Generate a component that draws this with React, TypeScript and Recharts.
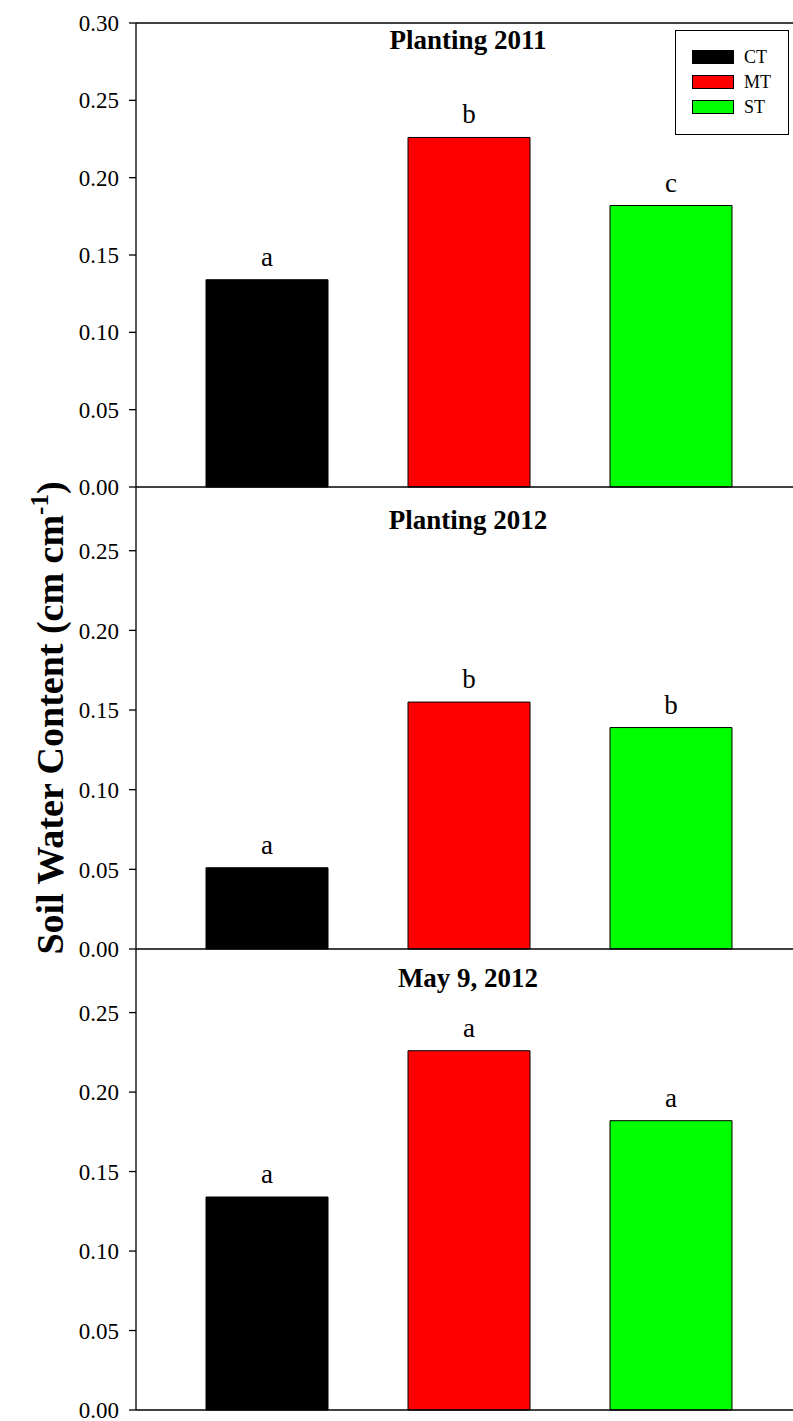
import React from "react";
import {
  BarChart,
  Bar,
  Cell,
  XAxis,
  YAxis,
  ReferenceLine,
  Legend,
  LabelList,
} from "recharts";

// ------------------------------------------------------------
// Data
// ------------------------------------------------------------
const treatments = ["CT", "MT", "ST"];
const treatmentColors = ["#000000", "#ff0000", "#00ff00"];

const planting2011 = [0.134, 0.226, 0.182];
const planting2011Letters = ["a", "b", "c"];

const planting2012 = [0.051, 0.155, 0.139];
const planting2012Letters = ["a", "b", "b"];

const may2012 = [0.134, 0.226, 0.182];
const may2012Letters = ["a", "a", "a"];

const ticksTop = [0, 0.05, 0.1, 0.15, 0.2, 0.25, 0.3];
const ticksLower = [0, 0.05, 0.1, 0.15, 0.2, 0.25];

const FONT = "'Liberation Serif', 'Times New Roman', serif";
const PAD = 15;

function LegendBox() {
  return (
    <div
      style={{
        width: 114,
        height: 105,
        boxSizing: "border-box",
        border: "1.3px solid #000",
        background: "#fff",
        position: "relative",
        fontFamily: FONT,
      }}
    >
      {treatments.map((t, i) => (
        <div
          key={t}
          style={{
            position: "absolute",
            left: 16,
            top: 19 + i * 25,
            display: "flex",
            alignItems: "center",
            height: 14,
          }}
        >
          <span
            style={{
              width: 42,
              height: 14,
              boxSizing: "border-box",
              border: "1px solid #000",
              background: treatmentColors[i],
              display: "inline-block",
            }}
          />
          <span style={{ marginLeft: 10, fontSize: 18, color: "#000", lineHeight: "14px" }}>
            {t}
          </span>
        </div>
      ))}
    </div>
  );
}

function Panel({
  title,
  values,
  letters,
  yMax,
  ticks,
  plotTop,
  plotBottom,
  titleY,
  first,
  yLabel,
}: any) {
  const data = treatments.map((t, i) => ({
    name: t,
    value: values[i],
    letter: letters[i],
  }));
  const top = plotTop - PAD;
  const height = plotBottom - plotTop + 2 * PAD;
  return (
    <div style={{ position: "absolute", left: 0, top }}>
      <BarChart
        width={810}
        height={height}
        data={data}
        margin={{ top: PAD, right: 8, bottom: PAD, left: 0 }}
      >
        <XAxis dataKey="name" hide padding={{ left: 30, right: 30 }} />
        <YAxis
          type="number"
          domain={[0, yMax]}
          ticks={ticks}
          interval={0}
          width={136}
          tickSize={7}
          tickMargin={10}
          axisLine={{ stroke: "#000", strokeWidth: 1.3 }}
          tickLine={{ stroke: "#000", strokeWidth: 1.3 }}
          tick={{ fill: "#000", fontSize: 23, fontFamily: FONT }}
          tickFormatter={(v: number) => v.toFixed(2)}
        />
        <Bar
          dataKey="value"
          barSize={122}
          stroke="#000"
          strokeWidth={1}
          isAnimationActive={false}
        >
          {data.map((_, i) => (
            <Cell key={i} fill={treatmentColors[i]} />
          ))}
          <LabelList
            dataKey="letter"
            position="top"
            offset={14}
            fill="#000"
            fontSize={27}
            fontFamily={FONT}
          />
        </Bar>
        <ReferenceLine y={0} stroke="#000" strokeWidth={1.5} />
        {first && <ReferenceLine y={yMax} stroke="#000" strokeWidth={1.3} />}
        {first && (
          <Legend
            layout="horizontal"
            verticalAlign="middle"
            align="center"
            wrapperStyle={{ left: 675, top: 30 - top, width: 114, height: 105 }}
            content={() => <LegendBox />}
          />
        )}
        <text
          x={468}
          y={titleY - top}
          textAnchor="middle"
          dominantBaseline="central"
          style={{ fontFamily: FONT, fontSize: 27, fontWeight: "bold", fill: "#000" }}
        >
          {title}
        </text>
        {yLabel && (
          <text
            x={63}
            y={718 - top}
            textAnchor="middle"
            transform={`rotate(-90, 63, ${718 - top})`}
            style={{ fontFamily: FONT, fontSize: 38, fontWeight: "bold", fill: "#000" }}
          >
            Soil Water Content (cm cm
            <tspan dy={-15} fontSize={25}>
              -1
            </tspan>
            <tspan dy={15}>)</tspan>
          </text>
        )}
      </BarChart>
    </div>
  );
}

export default function App() {
  return (
    <div
      style={{
        position: "absolute",
        left: 0,
        top: 0,
        width: 793,
        height: 1421,
        overflow: "hidden",
        background: "#fff",
        fontFamily: FONT,
      }}
    >
      <Panel
        title="Planting 2011"
        values={planting2011}
        letters={planting2011Letters}
        yMax={0.3}
        ticks={ticksTop}
        plotTop={23}
        plotBottom={487}
        titleY={40}
        first
      />
      <Panel
        title="Planting 2012"
        values={planting2012}
        letters={planting2012Letters}
        yMax={0.29}
        ticks={ticksLower}
        plotTop={487}
        plotBottom={949}
        titleY={520}
        yLabel
      />
      <Panel
        title="May 9, 2012"
        values={may2012}
        letters={may2012Letters}
        yMax={0.29}
        ticks={ticksLower}
        plotTop={949}
        plotBottom={1410}
        titleY={978}
      />
    </div>
  );
}
